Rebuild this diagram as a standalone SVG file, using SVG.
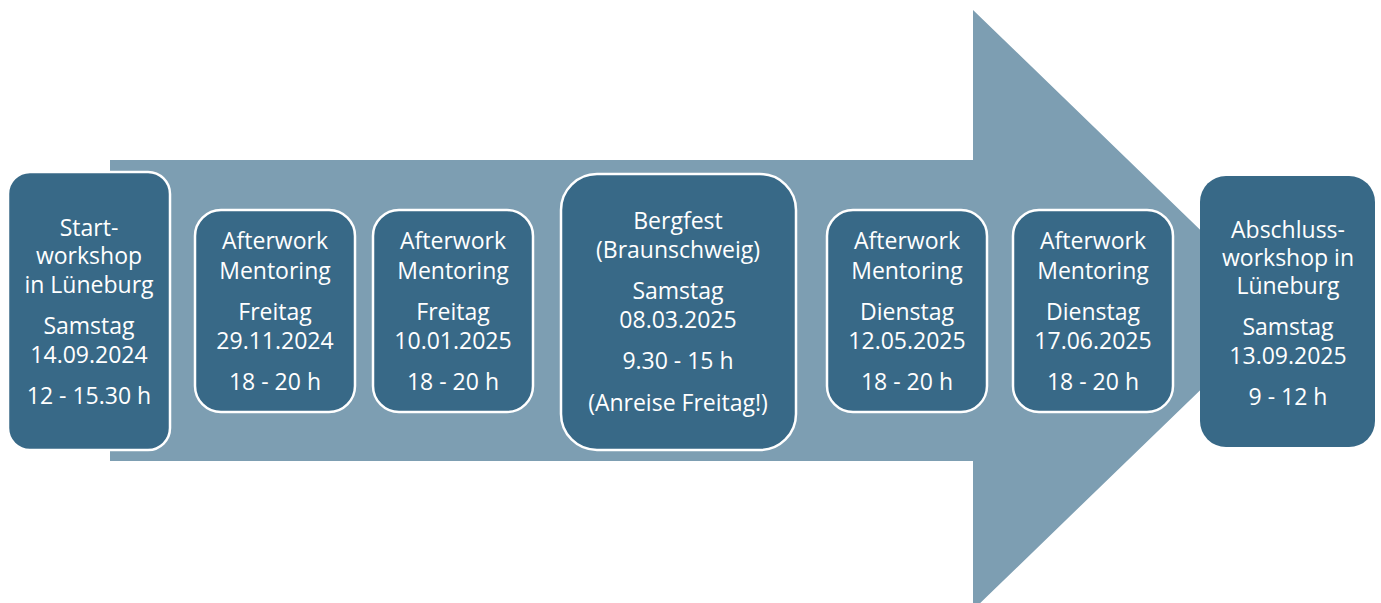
<svg xmlns="http://www.w3.org/2000/svg" width="1381" height="603" viewBox="0 0 1381 603">
<style>
.box{fill:#386987;stroke:#ffffff;stroke-width:2.5}
.box2{fill:#386987}
text{font-family:"Open Sans","Noto Sans",sans-serif;font-size:23px;fill:#ffffff;text-anchor:middle}
</style>
<rect width="1381" height="603" fill="#ffffff"/>
<g id="arrow">
<polygon points="110,160 973,160 973,10 1283,310 973,610 973,461 110,461" fill="#7d9eb2"/>
</g>
<g id="connectors"></g>
<g id="n1">
<rect class="box" x="8" y="172" width="162" height="278" rx="22"/>
<text x="89" y="236">Start-</text>
<text x="89" y="264">workshop</text>
<text x="89" y="293">in Lüneburg</text>
<text x="89" y="334">Samstag</text>
<text x="89" y="363">14.09.2024</text>
<text x="89" y="404">12 - 15.30 h</text>
</g>
<g id="n2">
<rect class="box" x="195" y="210" width="160" height="202" rx="26"/>
<text x="275" y="249">Afterwork</text>
<text x="275" y="279">Mentoring</text>
<text x="275" y="320">Freitag</text>
<text x="275" y="349">29.11.2024</text>
<text x="275" y="390">18 - 20 h</text>
</g>
<g id="n3">
<rect class="box" x="373" y="210" width="160" height="202" rx="26"/>
<text x="453" y="249">Afterwork</text>
<text x="453" y="279">Mentoring</text>
<text x="453" y="320">Freitag</text>
<text x="453" y="349">10.01.2025</text>
<text x="453" y="390">18 - 20 h</text>
</g>
<g id="n4">
<rect class="box" x="561" y="174" width="235" height="276" rx="36"/>
<text x="678" y="229">Bergfest</text>
<text x="678" y="258">(Braunschweig)</text>
<text x="678" y="299">Samstag</text>
<text x="678" y="328">08.03.2025</text>
<text x="678" y="369">9.30 - 15 h</text>
<text x="678" y="411">(Anreise Freitag!)</text>
</g>
<g id="n5">
<rect class="box" x="827" y="210" width="160" height="202" rx="26"/>
<text x="907" y="249">Afterwork</text>
<text x="907" y="279">Mentoring</text>
<text x="907" y="320">Dienstag</text>
<text x="907" y="349">12.05.2025</text>
<text x="907" y="390">18 - 20 h</text>
</g>
<g id="n6">
<rect class="box" x="1013" y="210" width="160" height="202" rx="26"/>
<text x="1093" y="249">Afterwork</text>
<text x="1093" y="279">Mentoring</text>
<text x="1093" y="320">Dienstag</text>
<text x="1093" y="349">17.06.2025</text>
<text x="1093" y="390">18 - 20 h</text>
</g>
<g id="n7">
<rect class="box2" x="1200" y="176" width="175" height="271" rx="26"/>
<text x="1288" y="238">Abschluss-</text>
<text x="1288" y="266">workshop in</text>
<text x="1288" y="294">Lüneburg</text>
<text x="1288" y="335">Samstag</text>
<text x="1288" y="364">13.09.2025</text>
<text x="1288" y="405">9 - 12 h</text>
</g>
</svg>
